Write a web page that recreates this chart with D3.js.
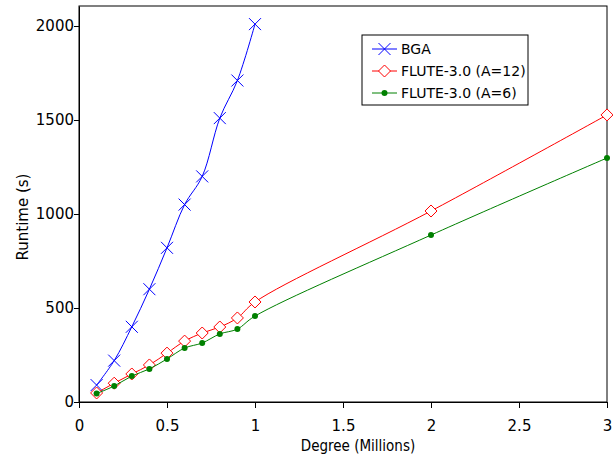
<!DOCTYPE html>
<html>
<head>
<meta charset="utf-8">
<script src="https://cdn.jsdelivr.net/npm/d3@7"></script>
<style>
  body { margin: 0; background: #fff; }
  text { font-family: "DejaVu Sans", sans-serif; fill: #000; }
</style>
</head>
<body>
<div id="chart"></div>
<script>
// Data
var degreesSmall = [0.1, 0.2, 0.3, 0.4, 0.5, 0.6, 0.7, 0.8, 0.9, 1.0];
var degreesFlute = [0.1, 0.2, 0.3, 0.4, 0.5, 0.6, 0.7, 0.8, 0.9, 1.0, 2.0, 3.0];
var bgaRuntime = [90, 220, 400, 600, 820, 1050, 1200, 1510, 1710, 2010];
var flute12Runtime = [48, 100, 149, 197, 260, 324, 367, 399, 447, 532, 1016, 1527];
var flute6Runtime = [45, 85, 138, 176, 229, 287, 314, 362, 388, 457, 888, 1298];
var xTicks = [0, 0.5, 1, 1.5, 2, 2.5, 3];
var yTicks = [0, 500, 1000, 1500, 2000];

var svgWidth = 613;
var svgHeight = 455;

var margin = { top: 6, right: 6, bottom: 53, left: 79 };
var width = svgWidth - margin.left - margin.right;
var height = svgHeight - margin.top - margin.bottom;

var svg = d3.select("#chart")
  .append("svg")
  .attr("width", svgWidth)
  .attr("height", svgHeight);

var chartGroup = svg.append("g")
  .attr("transform", `translate(${margin.left}, ${margin.top})`);

var xScale = d3.scaleLinear().domain([0, 3]).range([0, width]);
var yScale = d3.scaleLinear().domain([0, 2000 * height / 376]).range([height, 0]);

// plot border
chartGroup.append("rect")
  .attr("width", width)
  .attr("height", height)
  .attr("fill", "none")
  .attr("stroke", "#000")
  .attr("stroke-width", 1);

// axes
var bottomAxis = d3.axisBottom(xScale).tickValues(xTicks).tickSize(6).tickSizeOuter(0)
  .tickFormat(d => String(d));
var leftAxis = d3.axisLeft(yScale).tickValues(yTicks).tickSize(5).tickSizeOuter(0)
  .tickFormat(d => String(d));

var gx = chartGroup.append("g")
  .attr("transform", `translate(0, ${height})`)
  .call(bottomAxis);
gx.selectAll("text").attr("y", 29).attr("dy", 0);

var gy = chartGroup.append("g").call(leftAxis);
gy.selectAll("text").attr("x", -5);

[gx, gy].forEach(function(g) {
  g.select(".domain").attr("stroke", "#000");
  g.selectAll("line").attr("stroke", "#000");
  g.selectAll("text").style("font-size", "15px").style("font-family", "DejaVu Sans, sans-serif");
});

// series
var series = [
  { name: "BGA", xs: degreesSmall, ys: bgaRuntime, color: "#0000ff", marker: "cross" },
  { name: "FLUTE-3.0 (A=12)", xs: degreesFlute, ys: flute12Runtime, color: "#ff0000", marker: "diamond" },
  { name: "FLUTE-3.0 (A=6)", xs: degreesFlute, ys: flute6Runtime, color: "#008000", marker: "dot" }
];

var line = d3.line()
  .x(d => xScale(d[0]))
  .y(d => yScale(d[1]))
  .curve(d3.curveCatmullRom.alpha(0.5));

function drawMarker(g, type, color) {
  if (type === "cross") {
    g.append("path").attr("d", "M-6,-6L6,6M-6,6L6,-6")
      .attr("stroke", color).attr("stroke-width", 1).attr("fill", "none");
  } else if (type === "diamond") {
    g.append("path").attr("d", "M0,-6L6,0L0,6L-6,0Z")
      .attr("stroke", color).attr("stroke-width", 1).attr("fill", "#fff");
  } else {
    g.append("circle").attr("r", 3).attr("fill", color);
  }
}

series.forEach(function(s) {
  var pts = s.xs.map((x, i) => [x, s.ys[i]]);
  chartGroup.append("path")
    .datum(pts)
    .attr("d", line)
    .attr("fill", "none")
    .attr("stroke", s.color)
    .attr("stroke-width", 1);
  pts.forEach(function(p) {
    var g = chartGroup.append("g")
      .attr("transform", `translate(${xScale(p[0])}, ${yScale(p[1])})`);
    drawMarker(g, s.marker, s.color);
  });
});

// legend
var legend = svg.append("g").attr("transform", "translate(362, 35)");
legend.append("rect")
  .attr("width", 166).attr("height", 70)
  .attr("fill", "#fff").attr("stroke", "#000");
series.forEach(function(s, i) {
  var y = 14 + i * 22;
  legend.append("line")
    .attr("x1", 10).attr("x2", 35).attr("y1", y).attr("y2", y)
    .attr("stroke", s.color);
  var g = legend.append("g").attr("transform", `translate(22.5, ${y})`);
  drawMarker(g, s.marker, s.color);
  legend.append("text")
    .attr("x", 39).attr("y", y).attr("dy", "0.36em")
    .style("font-size", "14px")
    .text(s.name);
});

// axis labels
svg.append("text")
  .attr("transform", "translate(28, 217) rotate(-90)")
  .attr("text-anchor", "middle")
  .style("font-size", "15px")
  .text("Runtime (s)");

svg.append("text")
  .attr("x", 358)
  .attr("y", 451)
  .attr("text-anchor", "middle")
  .style("font-size", "15px")
  .style("font-family", "DejaVu Sans Condensed, DejaVu Sans, sans-serif")
  .text("Degree (Millions)");
</script>
</body>
</html>
